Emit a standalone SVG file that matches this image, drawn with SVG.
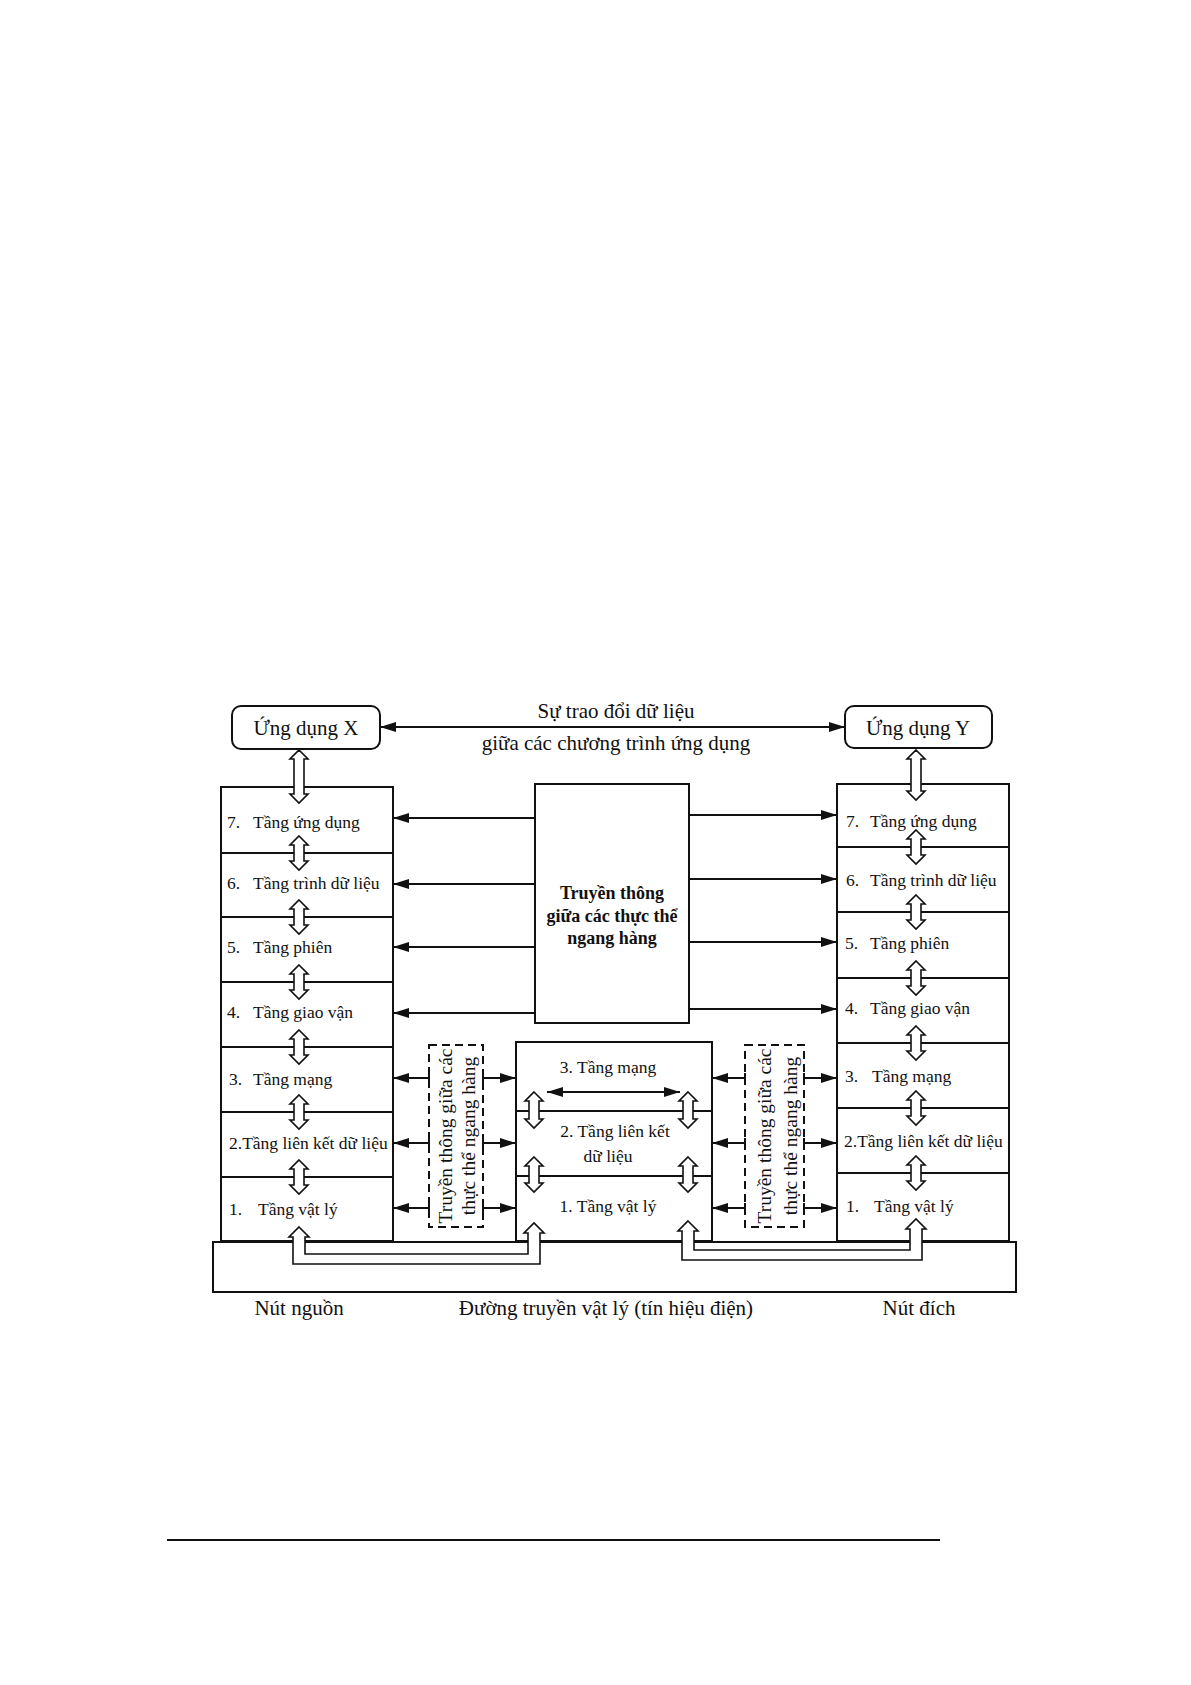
<svg xmlns="http://www.w3.org/2000/svg" width="1191" height="1685" viewBox="0 0 1191 1685">
<style>
.t{font-family:"Liberation Serif","Times New Roman",serif;fill:#111;}
.lay{font-size:17.5px;}
.rot{font-size:19.5px;}
.big{font-size:21px;}
.bold{font-size:18px;font-weight:bold;}
.box{fill:#fff;stroke:#111;stroke-width:2;}
.sep{stroke:#111;stroke-width:2;fill:none;}
.ln{stroke:#111;stroke-width:2;fill:none;}
.dash{fill:none;stroke:#111;stroke-width:2;stroke-dasharray:8 5;}
.ha{fill:#fff;stroke:#111;stroke-width:1.6;stroke-linejoin:miter;}
</style>
<defs>
<marker id="ah" viewBox="0 0 16 10" refX="16" refY="5" markerWidth="16" markerHeight="10" markerUnits="userSpaceOnUse" orient="auto-start-reverse">
<path d="M0,0 L16,5 L0,10 Z" fill="#111"/>
</marker>
</defs>
<rect width="1191" height="1685" fill="#fff"/>

<g id="plate">
<rect class="box" x="213" y="1242" width="803" height="50"/>
</g>

<g id="app-x">
<rect class="box" x="232" y="706" width="148" height="43" rx="9"/>
<text class="t big" x="306" y="735" text-anchor="middle">Ứng dụng X</text>
</g>
<g id="app-y">
<rect class="box" x="845" y="706" width="147" height="42" rx="9"/>
<text class="t big" x="918" y="735" text-anchor="middle">Ứng dụng Y</text>
</g>

<g id="source-node">
<rect class="box" x="221" y="787" width="172" height="454"/>
<path class="sep" d="M221,853H393M221,917H393M221,982H393M221,1047H393M221,1112H393M221,1177H393"/>
<text class="t lay" y="828"><tspan x="227">7.</tspan><tspan x="253">Tầng ứng dụng</tspan></text>
<text class="t lay" y="889"><tspan x="227">6.</tspan><tspan x="253">Tầng trình dữ liệu</tspan></text>
<text class="t lay" y="953"><tspan x="227">5.</tspan><tspan x="253">Tầng phiên</tspan></text>
<text class="t lay" y="1018"><tspan x="227">4.</tspan><tspan x="253">Tầng giao vận</tspan></text>
<text class="t lay" y="1085"><tspan x="229">3.</tspan><tspan x="253">Tầng mạng</tspan></text>
<text class="t lay" x="229" y="1149">2.Tầng liên kết dữ liệu</text>
<text class="t lay" y="1215"><tspan x="229">1.</tspan><tspan x="258">Tầng vật lý</tspan></text>
</g>

<g id="dest-node">
<rect class="box" x="837" y="784" width="172" height="457"/>
<path class="sep" d="M837,847H1009M837,912H1009M837,978H1009M837,1043H1009M837,1108H1009M837,1173H1009"/>
<text class="t lay" y="827"><tspan x="846">7.</tspan><tspan x="870">Tầng ứng dụng</tspan></text>
<text class="t lay" y="886"><tspan x="846">6.</tspan><tspan x="870">Tầng trình dữ liệu</tspan></text>
<text class="t lay" y="949"><tspan x="845">5.</tspan><tspan x="870">Tầng phiên</tspan></text>
<text class="t lay" y="1014"><tspan x="845">4.</tspan><tspan x="870">Tầng giao vận</tspan></text>
<text class="t lay" y="1082"><tspan x="845">3.</tspan><tspan x="872">Tầng mạng</tspan></text>
<text class="t lay" x="844" y="1147">2.Tầng liên kết dữ liệu</text>
<text class="t lay" y="1212"><tspan x="846">1.</tspan><tspan x="874">Tầng vật lý</tspan></text>
</g>

<g id="peer-box">
<rect class="box" x="535" y="784" width="154" height="239"/>
<text class="t bold" x="612" y="899" text-anchor="middle">Truyền thông</text>
<text class="t bold" x="612" y="922" text-anchor="middle">giữa các thực thể</text>
<text class="t bold" x="612" y="944" text-anchor="middle">ngang hàng</text>
</g>

<g id="router">
<rect class="box" x="516" y="1042" width="196" height="199"/>
<path class="sep" d="M516,1111H712M516,1176H712"/>
<text class="t lay" x="608" y="1073" text-anchor="middle">3. Tầng mạng</text>
<text class="t lay" x="615" y="1137" text-anchor="middle">2. Tầng liên kết</text>
<text class="t lay" x="608" y="1162" text-anchor="middle">dữ liệu</text>
<text class="t lay" x="608" y="1212" text-anchor="middle">1. Tầng vật lý</text>
</g>

<g id="peer-left">
<rect class="dash" x="429" y="1045" width="54" height="182"/>
<text class="t rot" transform="translate(452,1136) rotate(-90)" text-anchor="middle">Truyền thông giữa các</text>
<text class="t rot" transform="translate(475,1136) rotate(-90)" text-anchor="middle">thực thể ngang hàng</text>
</g>
<g id="peer-right">
<rect class="dash" x="745" y="1045" width="59" height="182"/>
<text class="t rot" transform="translate(771,1136) rotate(-90)" text-anchor="middle">Truyền thông giữa các</text>
<text class="t rot" transform="translate(797,1136) rotate(-90)" text-anchor="middle">thực thể ngang hàng</text>
</g>

<g id="labels">
<text class="t big" x="616" y="718" text-anchor="middle">Sự trao đổi dữ liệu</text>
<text class="t big" x="616" y="750" text-anchor="middle">giữa các chương trình ứng dụng</text>
<text class="t big" x="299" y="1315" text-anchor="middle">Nút nguồn</text>
<text class="t big" x="606" y="1315" text-anchor="middle">Đường truyền vật lý (tín hiệu điện)</text>
<text class="t big" x="919" y="1315" text-anchor="middle">Nút đích</text>
</g>

<g id="connectors">
<line class="ln" x1="380" y1="727" x2="845" y2="727" marker-start="url(#ah)" marker-end="url(#ah)"/>
<line class="ln" x1="535" y1="818" x2="393" y2="818" marker-end="url(#ah)"/>
<line class="ln" x1="535" y1="884" x2="393" y2="884" marker-end="url(#ah)"/>
<line class="ln" x1="535" y1="947" x2="393" y2="947" marker-end="url(#ah)"/>
<line class="ln" x1="535" y1="1013" x2="393" y2="1013" marker-end="url(#ah)"/>
<line class="ln" x1="689" y1="815" x2="837" y2="815" marker-end="url(#ah)"/>
<line class="ln" x1="689" y1="879" x2="837" y2="879" marker-end="url(#ah)"/>
<line class="ln" x1="689" y1="942" x2="837" y2="942" marker-end="url(#ah)"/>
<line class="ln" x1="689" y1="1009" x2="837" y2="1009" marker-end="url(#ah)"/>
<line class="ln" x1="547" y1="1092" x2="680" y2="1092" marker-start="url(#ah)" marker-end="url(#ah)"/>
<line class="ln" x1="429" y1="1078" x2="393" y2="1078" marker-end="url(#ah)"/>
<line class="ln" x1="429" y1="1143" x2="393" y2="1143" marker-end="url(#ah)"/>
<line class="ln" x1="429" y1="1208" x2="393" y2="1208" marker-end="url(#ah)"/>
<line class="ln" x1="483" y1="1078" x2="516" y2="1078" marker-end="url(#ah)"/>
<line class="ln" x1="483" y1="1143" x2="516" y2="1143" marker-end="url(#ah)"/>
<line class="ln" x1="483" y1="1208" x2="516" y2="1208" marker-end="url(#ah)"/>
<line class="ln" x1="745" y1="1078" x2="712" y2="1078" marker-end="url(#ah)"/>
<line class="ln" x1="745" y1="1143" x2="712" y2="1143" marker-end="url(#ah)"/>
<line class="ln" x1="745" y1="1208" x2="712" y2="1208" marker-end="url(#ah)"/>
<line class="ln" x1="804" y1="1078" x2="837" y2="1078" marker-end="url(#ah)"/>
<line class="ln" x1="804" y1="1143" x2="837" y2="1143" marker-end="url(#ah)"/>
<line class="ln" x1="804" y1="1208" x2="837" y2="1208" marker-end="url(#ah)"/>
<path class="ln" d="M429,1073V1083M429,1138V1148M429,1203V1213M483,1073V1083M483,1138V1148M483,1203V1213M745,1073V1083M745,1138V1148M745,1203V1213M804,1073V1083M804,1138V1148M804,1203V1213"/>
<path class="ha" d="M299,750 l9,9 h-4 v35 h4 l-9,9 l-9,-9 h4 v-35 h-4 Z"/>
<path class="ha" d="M299,836 l9,9 h-4 v16 h4 l-9,9 l-9,-9 h4 v-16 h-4 Z"/>
<path class="ha" d="M299,900 l9,9 h-4 v16 h4 l-9,9 l-9,-9 h4 v-16 h-4 Z"/>
<path class="ha" d="M299,965 l9,9 h-4 v16 h4 l-9,9 l-9,-9 h4 v-16 h-4 Z"/>
<path class="ha" d="M299,1030 l9,9 h-4 v16 h4 l-9,9 l-9,-9 h4 v-16 h-4 Z"/>
<path class="ha" d="M299,1095 l9,9 h-4 v16 h4 l-9,9 l-9,-9 h4 v-16 h-4 Z"/>
<path class="ha" d="M299,1160 l9,9 h-4 v16 h4 l-9,9 l-9,-9 h4 v-16 h-4 Z"/>
<path class="ha" d="M916,750 l9,9 h-4 v32 h4 l-9,9 l-9,-9 h4 v-32 h-4 Z"/>
<path class="ha" d="M916,830 l9,9 h-4 v16 h4 l-9,9 l-9,-9 h4 v-16 h-4 Z"/>
<path class="ha" d="M916,895 l9,9 h-4 v16 h4 l-9,9 l-9,-9 h4 v-16 h-4 Z"/>
<path class="ha" d="M916,961 l9,9 h-4 v16 h4 l-9,9 l-9,-9 h4 v-16 h-4 Z"/>
<path class="ha" d="M916,1026 l9,9 h-4 v16 h4 l-9,9 l-9,-9 h4 v-16 h-4 Z"/>
<path class="ha" d="M916,1091 l9,9 h-4 v16 h4 l-9,9 l-9,-9 h4 v-16 h-4 Z"/>
<path class="ha" d="M916,1156 l9,9 h-4 v16 h4 l-9,9 l-9,-9 h4 v-16 h-4 Z"/>
<path class="ha" d="M534,1092 l9,9 h-4 v18 h4 l-9,9 l-9,-9 h4 v-18 h-4 Z"/>
<path class="ha" d="M534,1157 l9,9 h-4 v17 h4 l-9,9 l-9,-9 h4 v-17 h-4 Z"/>
<path class="ha" d="M688,1092 l9,9 h-4 v18 h4 l-9,9 l-9,-9 h4 v-18 h-4 Z"/>
<path class="ha" d="M688,1157 l9,9 h-4 v17 h4 l-9,9 l-9,-9 h4 v-17 h-4 Z"/>
<path class="ha" d="M299,1227 L309,1237 L305,1237 L305,1254 L528,1254 L528,1233 L524,1233 L534,1223 L544,1233 L540,1233 L540,1264 L293,1264 L293,1237 L289,1237 Z"/>
<path class="ha" d="M688,1221 L698,1231 L694,1231 L694,1250 L910,1250 L910,1229 L906,1229 L916,1219 L926,1229 L922,1229 L922,1260 L682,1260 L682,1231 L678,1231 Z"/>
</g>

<line x1="167" y1="1540" x2="940" y2="1540" stroke="#111" stroke-width="2"/>
</svg>
